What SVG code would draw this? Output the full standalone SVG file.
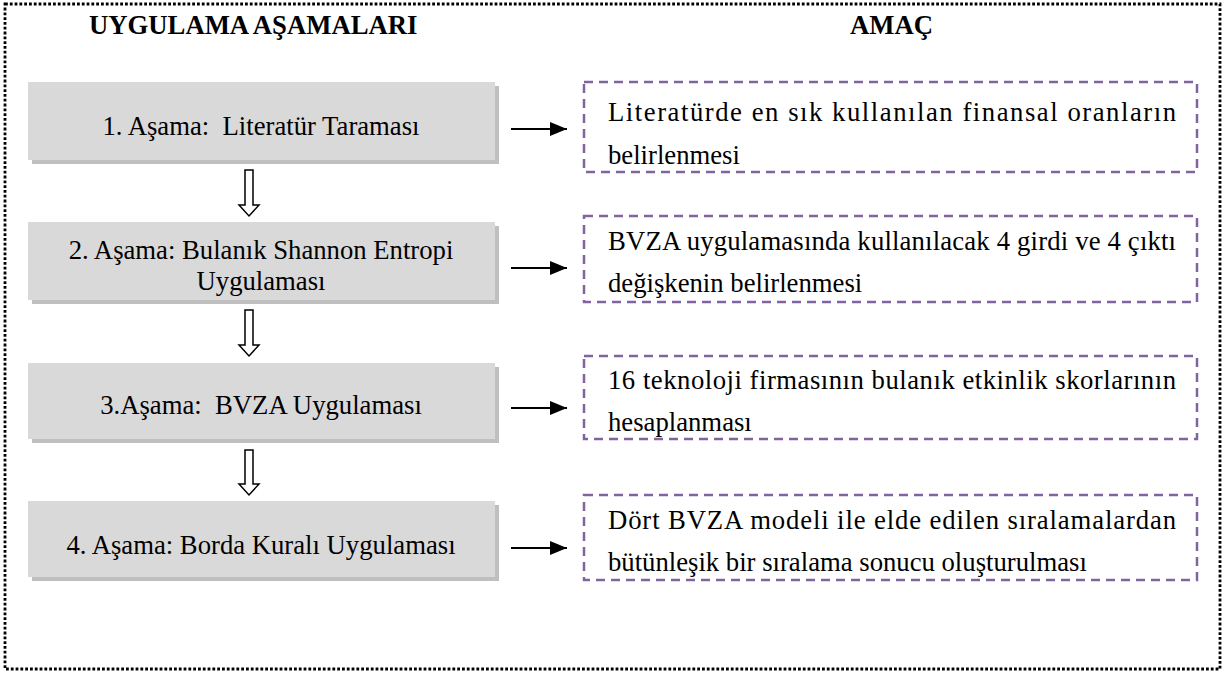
<svg xmlns="http://www.w3.org/2000/svg" width="1223" height="673" viewBox="0 0 1223 673">
<defs>
<style>
.t{font-family:"Liberation Serif","Times New Roman",serif;font-size:26.7px;fill:#000;white-space:pre}
.h{font-family:"Liberation Serif","Times New Roman",serif;font-size:26.7px;font-weight:bold;fill:#000}
.box{fill:#d9d9d9}
.sh{fill:#bfbfbf}
.dash{fill:#fff;stroke:#8064a2;stroke-width:2.5;stroke-dasharray:9 6}
.conn{stroke:#000;stroke-width:1.8;fill:none}
.blk{fill:#fff;stroke:#000;stroke-width:1.5}
</style>
<marker id="ah" viewBox="0 0 17 14" refX="17" refY="7" markerWidth="17" markerHeight="14" markerUnits="userSpaceOnUse" orient="auto"><path d="M0,0 L17,7 L0,14 z" fill="#000"/></marker>
</defs>
<rect width="1223" height="673" fill="#fff"/>
<rect x="5" y="4" width="1215" height="665" fill="none" stroke="#000" stroke-width="2.8" stroke-dasharray="2.8 2"/>
<text class="h" x="89" y="34">UYGULAMA AŞAMALARI</text>
<text class="h" x="850" y="34">AMAÇ</text>

<g id="step1">
<rect class="sh" x="32" y="86" width="467" height="78"/>
<rect class="box" x="28" y="82" width="467" height="78"/>
<text class="t" x="261" y="135" text-anchor="middle" xml:space="preserve">1. Aşama:  Literatür Taraması</text>
</g>
<g id="step2">
<rect class="sh" x="32" y="226" width="467" height="78"/>
<rect class="box" x="28" y="222" width="467" height="78"/>
<text class="t" x="261" y="259" text-anchor="middle">2. Aşama: Bulanık Shannon Entropi</text>
<text class="t" x="261" y="290" text-anchor="middle">Uygulaması</text>
</g>
<g id="step3">
<rect class="sh" x="32" y="367" width="467" height="76"/>
<rect class="box" x="28" y="363" width="467" height="76"/>
<text class="t" x="261" y="414" text-anchor="middle" xml:space="preserve">3.Aşama:  BVZA Uygulaması</text>
</g>
<g id="step4">
<rect class="sh" x="32" y="505" width="467" height="76"/>
<rect class="box" x="28" y="501" width="467" height="76"/>
<text class="t" x="261" y="554" text-anchor="middle">4. Aşama: Borda Kuralı Uygulaması</text>
</g>

<g id="goal1">
<rect class="dash" x="584" y="82" width="613" height="90"/>
<text class="t" x="608" y="121" textLength="568" lengthAdjust="spacing">Literatürde en sık kullanılan finansal oranların</text>
<text class="t" x="608" y="164">belirlenmesi</text>
</g>
<g id="goal2">
<rect class="dash" x="584" y="216" width="613" height="86"/>
<text class="t" x="608" y="250" textLength="568" lengthAdjust="spacing">BVZA uygulamasında kullanılacak 4 girdi ve 4 çıktı</text>
<text class="t" x="608" y="292">değişkenin belirlenmesi</text>
</g>
<g id="goal3">
<rect class="dash" x="584" y="356" width="613" height="83"/>
<text class="t" x="608" y="389" textLength="568" lengthAdjust="spacing">16 teknoloji firmasının bulanık etkinlik skorlarının</text>
<text class="t" x="608" y="431">hesaplanması</text>
</g>
<g id="goal4">
<rect class="dash" x="584" y="495" width="613" height="85"/>
<text class="t" x="608" y="529" textLength="568" lengthAdjust="spacing">Dört BVZA modeli ile elde edilen sıralamalardan</text>
<text class="t" x="608" y="571">bütünleşik bir sıralama sonucu oluşturulması</text>
</g>

<g id="connectors">
<line class="conn" x1="511" y1="129" x2="567" y2="129" marker-end="url(#ah)"/>
<line class="conn" x1="511" y1="268" x2="567" y2="268" marker-end="url(#ah)"/>
<line class="conn" x1="511" y1="408" x2="567" y2="408" marker-end="url(#ah)"/>
<line class="conn" x1="511" y1="548" x2="567" y2="548" marker-end="url(#ah)"/>
<path class="blk" d="M245,170 H253 V205 H259 L249,216 L239,205 H245 Z"/>
<path class="blk" d="M245,310 H253 V345 H259 L249,356 L239,345 H245 Z"/>
<path class="blk" d="M245,450 H253 V484 H259 L249,495 L239,484 H245 Z"/>
</g>
</svg>
